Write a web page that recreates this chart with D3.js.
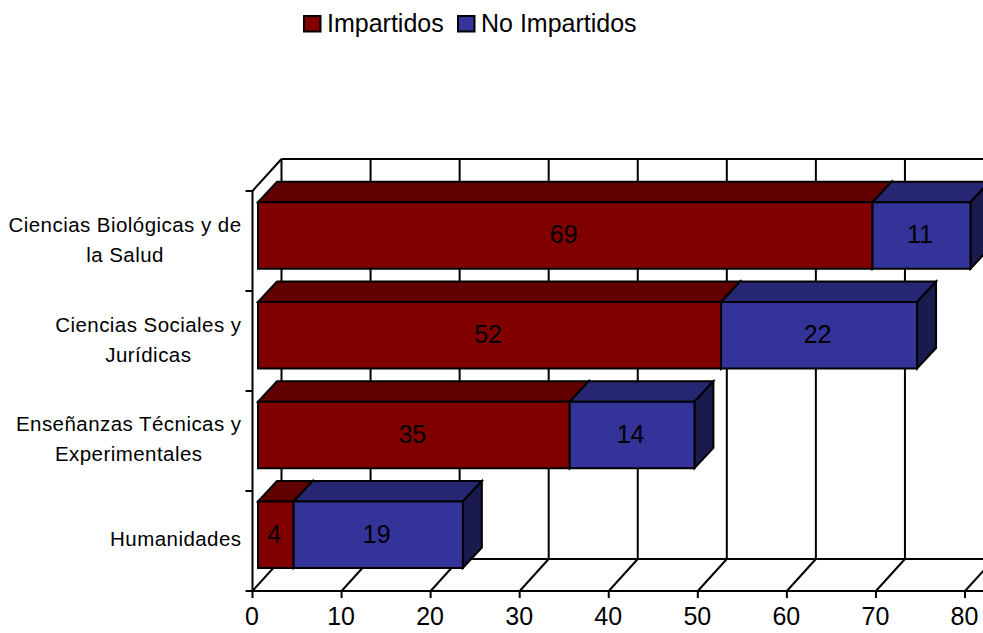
<!DOCTYPE html>
<html><head><meta charset="utf-8">
<script src="https://cdnjs.cloudflare.com/ajax/libs/d3/7.8.5/d3.min.js"></script>
<style>html,body{margin:0;background:#fff}svg{display:block}text{font-family:"Liberation Sans",Arial,sans-serif;fill:#000}</style>
</head><body><svg id="c" width="983" height="633"></svg>
<script>
const categories=[["Ciencias Biológicas y de","la Salud"],["Ciencias Sociales y","Jurídicas"],["Enseñanzas Técnicas y","Experimentales"],["Humanidades"]];
const impartidos=[69,52,35,4];
const noImpartidos=[11,22,14,19];
const seriesNames=["Impartidos","No Impartidos"];
const xTicks=[0,10,20,30,40,50,60,70,80];
const colors=[{f:"#800000",t:"#600000",s:"#400000"},{f:"#333399",t:"#262673",s:"#1a1a4d"}];

const svg=d3.select("#c");
const x=d3.scaleLinear().domain([0,80]).range([252.5,965]);
const y=d3.scaleBand().domain(d3.range(4)).range([192,591]);
const wall={dx:29,dy:-32}, barOff={x:5.5}, d3d={dx:19,dy:-20.5};
const barH=66.5;
const stroke="#000";
const line=(a,b,c,e,w=2)=>svg.append("line").attr("x1",a).attr("y1",b).attr("x2",c).attr("y2",e).attr("stroke",stroke).attr("stroke-width",w);

const yB=591, yT=191;
// walls
line(x(0)+wall.dx,yT+wall.dy,983,yT+wall.dy);
line(x(0)+wall.dx,yB+wall.dy,983,yB+wall.dy);
line(x(0),yT,x(0)+wall.dx,yT+wall.dy);
xTicks.forEach(t=>{
  line(x(t)+wall.dx,yT+wall.dy,x(t)+wall.dx,yB+wall.dy);
  line(x(t),yB,x(t)+wall.dx,yB+wall.dy);
});
// axes
line(x(0),yT,x(0),yB);
line(x(0),yB,983,yB);
xTicks.forEach(t=>{
  line(x(t),yB,x(t),yB+7);
  svg.append("text").attr("x",x(t)-0.5).attr("y",625).attr("text-anchor","middle").attr("font-size",25).text(t);
});
d3.range(5).forEach(i=>line(x(0)-7,yT+i*(yB-yT)/4,x(0),yT+i*(yB-yT)/4));

// bars
const poly=(pts,fill)=>svg.append("polygon").attr("points",pts.map(p=>p.join(",")).join(" ")).attr("fill",fill).attr("stroke",stroke).attr("stroke-width",2).attr("stroke-linejoin","miter");
categories.forEach((c,i)=>{
  const bot=y(i)+y.bandwidth()-23, top=bot-barH;
  const X=v=>x(v)+barOff.x;
  const segs=[[0,impartidos[i],0],[impartidos[i],impartidos[i]+noImpartidos[i],1]];
  segs.forEach(([a,b,k])=>{
    const col=colors[k];
    poly([[X(a),top],[X(a)+d3d.dx,top+d3d.dy],[X(b)+d3d.dx,top+d3d.dy],[X(b),top]],col.t);
    poly([[X(b),top],[X(b)+d3d.dx,top+d3d.dy],[X(b)+d3d.dx,bot+d3d.dy],[X(b),bot]],k?col.s:col.t);
  });
  segs.forEach(([a,b,k])=>{
    poly([[X(a),top],[X(b),top],[X(b),bot],[X(a),bot]],colors[k].f);
    svg.append("text").attr("x",(X(a)+X(b))/2-1.5).attr("y",top+41).attr("text-anchor","middle").attr("font-size",25).text(b-a);
  });
  // category labels
  const g=svg.append("g");
  const cy=y(i)+y.bandwidth()/2-2;
  const ts=c.map((s,j)=>g.append("text").attr("y",c.length>1?cy+(j-0.5)*30+7:cy+7).attr("font-size",20.5).attr("letter-spacing",0.45).attr("text-anchor","middle").text(s));
  const w=d3.max(ts,t=>t.node().getComputedTextLength());
  ts.forEach(t=>t.attr("x",241.5-w/2));
});

// legend
const legendX=[304,458], legendT=[327,481];
seriesNames.forEach((s,k)=>{
  svg.append("rect").attr("x",legendX[k]).attr("y",16).attr("width",16.5).attr("height",15.5).attr("fill",colors[k].f).attr("stroke",stroke).attr("stroke-width",2);
  svg.append("text").attr("x",legendT[k]).attr("y",32).attr("font-size",25).text(s);
});
</script></body></html>
